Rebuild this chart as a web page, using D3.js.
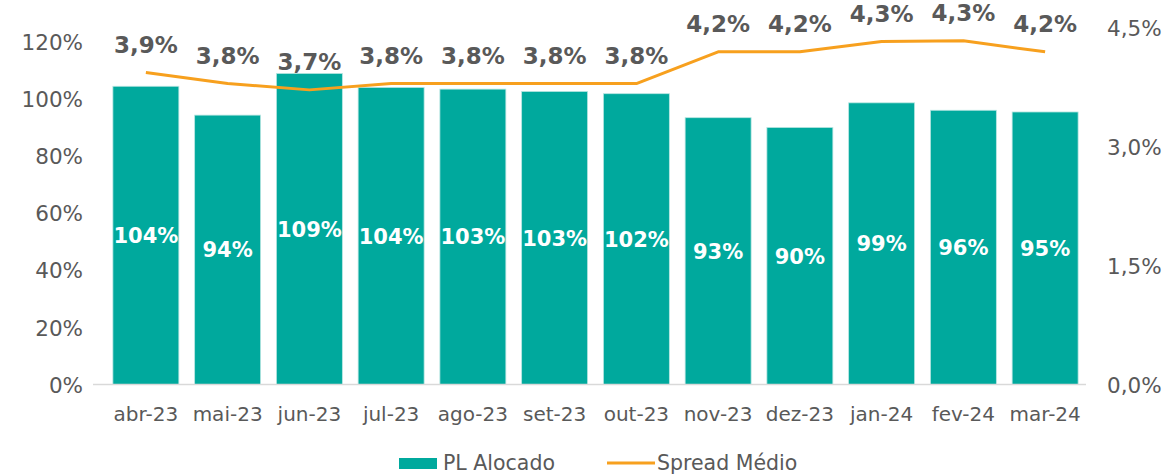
<!DOCTYPE html>
<html><head><meta charset="utf-8">
<script src="https://cdn.jsdelivr.net/npm/d3@7"></script>
<style>body{margin:0;background:#fff}svg{display:block}text{font-family:"DejaVu Sans",Verdana,sans-serif}</style>
</head><body><svg id="c" width="1171" height="476"></svg>
<script>
const categories = ["abr-23","mai-23","jun-23","jul-23","ago-23","set-23","out-23","nov-23","dez-23","jan-24","fev-24","mar-24"];
const plAlocado = [104.4, 94.3, 108.9, 104.0, 103.4, 102.6, 101.8, 93.4, 90.0, 98.6, 96.0, 95.4];
const spreadMedio = [3.94, 3.80, 3.72, 3.80, 3.80, 3.80, 3.80, 4.20, 4.20, 4.33, 4.34, 4.20];
const leftTicks = [0, 20, 40, 60, 80, 100, 120];
const rightTicks = [0, 1.5, 3.0, 4.5];
const seriesNames = ["PL Alocado", "Spread Médio"];

const teal = "#00A99D", orange = "#F7A01E", grey = "#595959";
const svg = d3.select("#c");
const x = d3.scaleBand().domain(categories).range([105, 1086]).paddingInner(0.193).paddingOuter(0.0965);
const yL = d3.scaleLinear().domain([0, 120]).range([384.5, 41.7]);
const yR = d3.scaleLinear().domain([0, 4.5]).range([384.5, 28.1]);
const fmt = v => d3.format(".0f")(v) + "%";
const fmtR = v => d3.format(".1f")(v).replace(".", ",") + "%";

// bars
svg.append("g").selectAll("rect").data(plAlocado).join("rect")
  .attr("x", (d,i) => x(categories[i])).attr("width", x.bandwidth())
  .attr("y", d => yL(d)).attr("height", d => yL(0) - yL(d))
  .attr("fill", teal).attr("stroke", "#b9e6e2").attr("stroke-width", 0.8);

// baseline
svg.append("line").attr("x1", 93).attr("x2", 1086).attr("y1", yL(0)).attr("y2", yL(0))
  .attr("stroke", "#d9d9d9").attr("stroke-width", 1.3);

// left axis
const gl = svg.append("g").attr("transform", "translate(83,0)")
  .call(d3.axisLeft(yL).tickValues(leftTicks).tickFormat(fmt).tickSize(0).tickPadding(0));
gl.select(".domain").remove();
gl.selectAll("text").attr("fill", grey).attr("font-size", 21.5).attr("dy", "0.36em");

// right axis
const gr = svg.append("g").attr("transform", "translate(1107,0)")
  .call(d3.axisRight(yR).tickValues(rightTicks).tickFormat(fmtR).tickSize(0).tickPadding(0));
gr.select(".domain").remove();
gr.selectAll("text").attr("fill", grey).attr("font-size", 21.5).attr("dy", "0.36em");

// x axis
const gx = svg.append("g").attr("transform", `translate(0,${yL(0)})`)
  .call(d3.axisBottom(x).tickSize(0).tickPadding(0));
gx.select(".domain").remove();
gx.selectAll("text").attr("fill", grey).attr("font-size", 20).attr("dy", 0).attr("y", 36);

// bar labels
svg.append("g").selectAll("text").data(plAlocado).join("text")
  .attr("x", (d,i) => x(categories[i]) + x.bandwidth()/2)
  .attr("y", d => (yL(d) + yL(0))/2).attr("dy", "0.36em")
  .attr("text-anchor", "middle").attr("fill", "#fff").attr("font-weight", "bold").attr("font-size", 21)
  .text(fmt);

// line
const cx = (i) => x(categories[i]) + x.bandwidth()/2;
svg.append("path").datum(spreadMedio)
  .attr("d", d3.line().x((d,i) => cx(i)).y(d => yR(d)))
  .attr("fill", "none").attr("stroke", orange).attr("stroke-width", 3).attr("stroke-linejoin", "round");

// line labels
svg.append("g").selectAll("text").data(spreadMedio).join("text")
  .attr("x", (d,i) => cx(i)).attr("y", d => yR(d) - 19.5)
  .attr("text-anchor", "middle").attr("fill", grey).attr("font-weight", "bold").attr("font-size", 23)
  .text(fmtR);

// legend
const lg = svg.append("g");
lg.append("rect").attr("x", 399).attr("y", 458).attr("width", 38).attr("height", 11).attr("fill", teal);
lg.append("text").attr("x", 443).attr("y", 463).attr("dy", "0.36em").attr("fill", grey).attr("font-size", 20.5).text(seriesNames[0]);
lg.append("line").attr("x1", 607).attr("x2", 655).attr("y1", 463).attr("y2", 463).attr("stroke", orange).attr("stroke-width", 3);
lg.append("text").attr("x", 657).attr("y", 463).attr("dy", "0.36em").attr("fill", grey).attr("font-size", 20.5).text(seriesNames[1]);
</script></body></html>
